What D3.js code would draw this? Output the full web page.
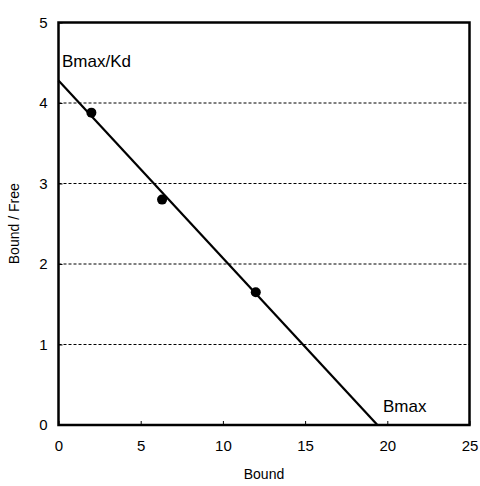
<!DOCTYPE html>
<html>
<head>
<meta charset="utf-8">
<script src="https://cdn.jsdelivr.net/npm/d3@7/dist/d3.min.js"></script>
<style>
  body { margin: 0; background: #fff; }
  svg text { font-family: "Liberation Sans", Arial, sans-serif; fill: #000; }
</style>
</head>
<body>
<svg id="chart" width="480" height="486"></svg>
<script>
// ---- data ----
const boundVals = [2, 6.3, 12];
const ratioVals = [3.88, 2.8, 1.65];
const fitLine = [[0, 4.28], [19.4, 0]];   // Bmax/Kd intercept -> Bmax intercept
const xTicks = [0, 5, 10, 15, 20, 25];
const yTicks = [0, 1, 2, 3, 4, 5];
const gridVals = [1, 2, 3, 4];

// ---- layout ----
const margin = { left: 58.5, right: 10.5, top: 22.5, bottom: 61 };
const width = 480, height = 486;
const svg = d3.select("#chart");

const x = d3.scaleLinear().domain([0, 25]).range([margin.left, width - margin.right]);
const y = d3.scaleLinear().domain([0, 5]).range([height - margin.bottom, margin.top]);

// gridlines
svg.append("g")
  .selectAll("line")
  .data(gridVals)
  .join("line")
  .attr("x1", x(0)).attr("x2", x(25))
  .attr("y1", d => y(d)).attr("y2", d => y(d))
  .attr("stroke", "#000")
  .attr("stroke-width", 1)
  .attr("stroke-dasharray", "3,2");

// x axis ticks (inward) + labels
const xAxis = d3.axisBottom(x).tickValues(xTicks).tickSize(-4).tickPadding(15).tickFormat(d3.format("d"));
svg.append("g")
  .attr("transform", `translate(0,${y(0)})`)
  .call(xAxis)
  .call(g => g.select(".domain").remove())
  .call(g => g.selectAll("text").attr("font-size", 15));

// y axis ticks (inward) + labels
const yAxis = d3.axisLeft(y).tickValues(yTicks).tickSize(-4).tickPadding(11).tickFormat(d3.format("d"));
svg.append("g")
  .attr("transform", `translate(${x(0)},0)`)
  .call(yAxis)
  .call(g => g.select(".domain").remove())
  .call(g => g.selectAll("text").attr("font-size", 15));

// frame
svg.append("rect")
  .attr("x", x(0)).attr("y", y(5))
  .attr("width", x(25) - x(0)).attr("height", y(0) - y(5))
  .attr("fill", "none").attr("stroke", "#000").attr("stroke-width", 2.5);

// fitted line
svg.append("path")
  .datum(fitLine)
  .attr("d", d3.line().x(d => x(d[0])).y(d => y(d[1])))
  .attr("stroke", "#000").attr("stroke-width", 2.2).attr("fill", "none");

// data points
svg.append("g")
  .selectAll("circle")
  .data(boundVals)
  .join("circle")
  .attr("cx", d => x(d))
  .attr("cy", (d, i) => y(ratioVals[i]))
  .attr("r", 5)
  .attr("fill", "#000");

// annotations
svg.append("text").attr("x", 62).attr("y", 67).attr("font-size", 17).text("Bmax/Kd");
svg.append("text").attr("x", 383).attr("y", 412).attr("font-size", 17).text("Bmax");

// axis titles
svg.append("text")
  .attr("x", (x(0) + x(25)) / 2).attr("y", 479)
  .attr("text-anchor", "middle").attr("font-size", 14)
  .text("Bound");
svg.append("text")
  .attr("transform", `translate(19,${(y(0) + y(5)) / 2}) rotate(-90)`)
  .attr("text-anchor", "middle").attr("font-size", 14)
  .text("Bound / Free");
</script>
</body>
</html>
